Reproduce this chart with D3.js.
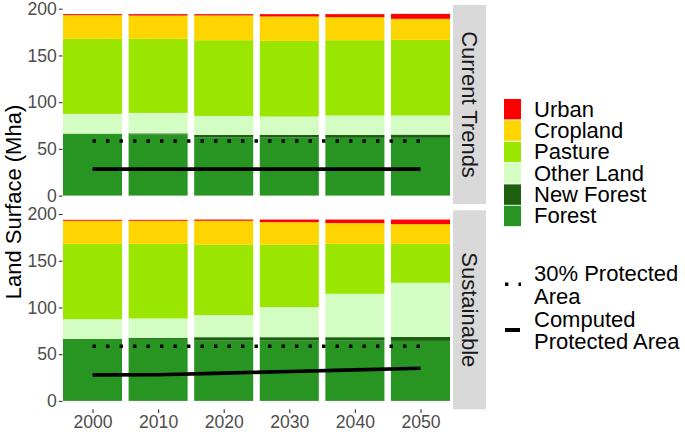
<!DOCTYPE html>
<html>
<head>
<meta charset="utf-8">
<script src="https://cdn.jsdelivr.net/npm/d3@7"></script>
<style>
  body { margin: 0; background: #fff; }
  svg { font-family: "Liberation Sans", Arial, sans-serif; }
</style>
</head>
<body>
<div id="graf"></div>
<script>
// Datos
const years = [2000, 2010, 2020, 2030, 2040, 2050]
const categorias = ["Forest", "New Forest", "Other Land", "Pasture", "Cropland", "Urban"]
const escenarios = ["Current Trends", "Sustainable"]

// Current Trends (Mha)
const forestCT = [66.4, 65.4, 62.1, 62.1, 61.8, 61.8]
const newForestCT = [0, 1.2, 2.9, 2.9, 3.2, 3.5]
const otherCT = [21.1, 21.9, 20.3, 19.6, 20.7, 20.4]
const pastureCT = [80.3, 79.3, 81.0, 81.0, 80.6, 81.0]
const cropCT = [25.3, 24.9, 26.5, 26.1, 24.7, 22.5]
const urbanCT = [1.1, 1.5, 1.4, 2.5, 3.2, 5.3]

// Sustainable (Mha)
const forestSU = [66.4, 66.4, 64.6, 64.6, 64.6, 64.2]
const newForestSU = [0, 1.1, 3.6, 3.6, 3.6, 4.3]
const otherSU = [21.1, 20.7, 23.6, 32.1, 46.4, 57.9]
const pastureSU = [80.6, 79.9, 75.3, 66.8, 53.5, 41.7]
const cropSU = [24.7, 24.7, 25.7, 24.2, 22.2, 21.1]
const urbanSU = [1.0, 1.0, 1.3, 2.8, 3.8, 4.9]

// Lineas de area protegida
const protected30CT = [58.5, 58.5, 58.5, 58.5, 58.5, 58.5]
const protected30SU = [58.5, 58.5, 58.5, 58.5, 58.5, 58.5]
const computedCT = [28.3, 28.3, 28.3, 28.3, 28.3, 28.3]
const computedSU = [27.8, 28.0, 29.75, 31.5, 33.25, 35.0]

const yTicks = [0, 50, 100, 150, 200]

const colores = {
  "Urban": "#FF0000",
  "Cropland": "#FFD500",
  "Pasture": "#9AE600",
  "Other Land": "#D4FDC4",
  "New Forest": "#1B5F0F",
  "Forest": "#289422",
}

const series = {
  "Current Trends": [forestCT, newForestCT, otherCT, pastureCT, cropCT, urbanCT],
  "Sustainable": [forestSU, newForestSU, otherSU, pastureSU, cropSU, urbanSU],
}
const lineas = {
  "Current Trends": { dotted: protected30CT, solid: computedCT },
  "Sustainable": { dotted: protected30SU, solid: computedSU },
}

// Layout
const anchoTotal = 685
const altoTotal = 432
const panelX = [63, 450]
const panelsY = [[5, 204], [210.3, 409.3]]

const svg = d3.select("#graf")
  .append("svg")
  .attr("width", anchoTotal)
  .attr("height", altoTotal)

const x = d3.scaleLinear().domain([1995.5, 2054.5]).range(panelX)
const barW = x(2009) - x(2000)

escenarios.forEach((esc, i) => {
  const [top, bottom] = panelsY[i]
  const y = d3.scaleLinear().domain([-9, 204]).range([bottom, top])

  const tabla = years.map((yr, j) => {
    const row = { year: yr }
    categorias.forEach((c, k) => (row[c] = series[esc][k][j]))
    return row
  })
  const stack = d3.stack().keys(categorias)(tabla)

  const g = svg.append("g")

  g.selectAll("g.capa")
    .data(stack)
    .join("g")
    .attr("class", "capa")
    .attr("fill", (d) => colores[d.key])
    .selectAll("rect")
    .data((d) => d)
    .join("rect")
    .attr("x", (d) => x(d.data.year) - barW / 2)
    .attr("width", barW)
    .attr("y", (d) => y(d[1]))
    .attr("height", (d) => Math.max(0, y(d[0]) - y(d[1])))

  const linea = d3.line()
    .x((d, j) => x(years[j]))
    .y((d) => y(d))

  g.append("path")
    .datum(lineas[esc].dotted)
    .attr("d", linea)
    .attr("fill", "none")
    .attr("stroke", "#000")
    .attr("stroke-width", 3.4)
    .attr("stroke-dasharray", "3.4,10.1")

  g.append("path")
    .datum(lineas[esc].solid)
    .attr("d", linea)
    .attr("fill", "none")
    .attr("stroke", "#000")
    .attr("stroke-width", 3.6)

  // Eje Y
  const yAxis = svg.append("g")
    .attr("transform", `translate(${panelX[0] - 0.5}, 0)`)
    .call(d3.axisLeft(y).tickValues(yTicks).tickSize(3.7).tickPadding(2))
  yAxis.select(".domain").remove()
  yAxis.selectAll("line").attr("stroke", "#333333").attr("stroke-width", 1.1)
  yAxis.selectAll("text")
    .attr("fill", "#4D4D4D")
    .style("font-size", "17.6px")
    .style("font-family", "Liberation Sans, Arial, sans-serif")

  // Strip
  svg.append("rect")
    .attr("x", 453)
    .attr("y", top)
    .attr("width", 33)
    .attr("height", bottom - top)
    .attr("fill", "#D9D9D9")
  svg.append("text")
    .attr("transform", `translate(469.5, ${(top + bottom) / 2}) rotate(90)`)
    .attr("text-anchor", "middle")
    .attr("dominant-baseline", "central")
    .attr("fill", "#1A1A1A")
    .style("font-size", "22px")
    .text(esc)

  if (i === 1) {
    const xAxis = svg.append("g")
      .attr("transform", `translate(0, ${bottom})`)
      .call(d3.axisBottom(x).tickValues(years).tickFormat(d3.format("d")).tickSize(3.7).tickPadding(3))
    xAxis.select(".domain").remove()
    xAxis.selectAll("line").attr("stroke", "#333333").attr("stroke-width", 1.1)
    xAxis.selectAll("text")
      .attr("fill", "#4D4D4D")
      .style("font-size", "17.6px")
      .style("font-family", "Liberation Sans, Arial, sans-serif")
  }
})

// Titulo eje Y
svg.append("text")
  .attr("transform", "translate(13, 202) rotate(-90)")
  .attr("text-anchor", "middle")
  .attr("dominant-baseline", "central")
  .attr("fill", "#000")
  .style("font-size", "22px")
  .text("Land Surface (Mha)")

// Leyenda de usos
const leyenda = categorias.slice().reverse()
const leg = svg.append("g")
leg.selectAll("rect")
  .data(leyenda)
  .join("rect")
  .attr("x", 504)
  .attr("y", (d, i) => 99 + i * 21.35)
  .attr("width", 17)
  .attr("height", 20.4)
  .attr("fill", (d) => colores[d])
leg.selectAll("text")
  .data(leyenda)
  .join("text")
  .attr("x", 534)
  .attr("y", (d, i) => 99 + i * 21.35 + 10.2)
  .attr("dominant-baseline", "central")
  .attr("fill", "#000")
  .style("font-size", "22px")
  .text((d) => d)

// Leyenda de lineas
const legL = svg.append("g")
legL.append("line")
  .attr("x1", 505).attr("x2", 521)
  .attr("y1", 284.3).attr("y2", 284.3)
  .attr("stroke", "#000")
  .attr("stroke-width", 3.4)
  .attr("stroke-dasharray", "3.4,10.1")
legL.append("line")
  .attr("x1", 505).attr("x2", 520)
  .attr("y1", 330).attr("y2", 330)
  .attr("stroke", "#000")
  .attr("stroke-width", 4)
const lineasTexto = [["30% Protected", 273.3], ["Area", 296.7], ["Computed", 319.3], ["Protected Area", 341.7]]
legL.selectAll("text")
  .data(lineasTexto)
  .join("text")
  .attr("x", 534)
  .attr("y", (d) => d[1])
  .attr("dominant-baseline", "central")
  .attr("fill", "#000")
  .style("font-size", "22px")
  .text((d) => d[0])
</script>
</body>
</html>
